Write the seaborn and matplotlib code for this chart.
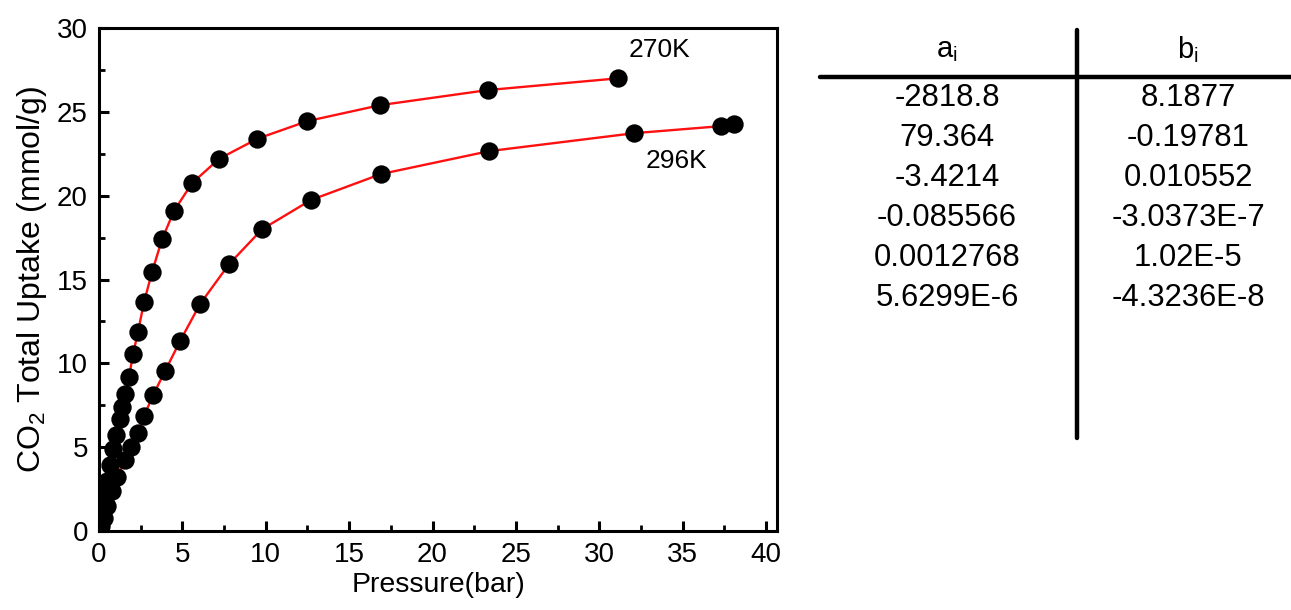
import matplotlib
matplotlib.use("Agg")
import matplotlib.pyplot as plt
import seaborn as sns
import pandas as pd

# Isotherm data (pressure in bar, uptake in mmol/g)
p_270 = [0.07, 0.15, 0.25, 0.38, 0.5, 0.66, 0.86, 1.02, 1.26, 1.36, 1.56, 1.8, 2.04,
         2.34, 2.7, 3.18, 3.78, 4.5, 5.58, 7.2, 9.5, 12.5, 16.85, 23.3, 31.1]
q_270 = [0.45, 1.0, 1.6, 2.3, 3.0, 3.94, 4.87, 5.74, 6.66, 7.38, 8.2, 9.2, 10.55,
         11.9, 13.65, 15.45, 17.4, 19.1, 20.75, 22.2, 23.4, 24.45, 25.4, 26.3, 27.0]
p_296 = [0.1, 0.3, 0.5, 0.8, 1.1, 1.56, 1.9, 2.36, 2.7, 3.24, 3.96, 4.86, 6.06, 7.8,
         9.78, 12.7, 16.9, 23.4, 32.1, 37.3, 38.1]
q_296 = [0.3, 0.8, 1.5, 2.4, 3.2, 4.23, 5.03, 5.83, 6.86, 8.1, 9.54, 11.33, 13.54, 15.92,
         18.0, 19.74, 21.29, 22.66, 23.73, 24.15, 24.27]

# Virial coefficients
a_coef = ["-2818.8", "79.364", "-3.4214", "-0.085566", "0.0012768", "5.6299E-6"]
b_coef = ["8.1877", "-0.19781", "0.010552", "-3.0373E-7", "1.02E-5", "-4.3236E-8"]

sns.set_style("ticks")
plt.rcParams["font.family"] = ["Liberation Sans", "DejaVu Sans"]
plt.rcParams["mathtext.default"] = "regular"
plt.rcParams["text.color"] = "black"
plt.rcParams["axes.labelcolor"] = "black"
plt.rcParams["xtick.color"] = "black"
plt.rcParams["ytick.color"] = "black"

df = pd.concat([
    pd.DataFrame({"P": p_270, "q": q_270, "T": "270K"}),
    pd.DataFrame({"P": p_296, "q": q_296, "T": "296K"}),
])

fig = plt.figure(figsize=(12.91, 6.10), dpi=100)
ax = fig.add_axes([0.0767, 0.1295, 0.5252, 0.8245])

sns.lineplot(data=df, x="P", y="q", units="T", estimator=None, sort=True,
             color="#ff1010", linewidth=1.7, ax=ax, legend=False, zorder=2)
sns.scatterplot(data=df, x="P", y="q", color="black", s=175, edgecolor="black",
                linewidth=0, ax=ax, legend=False, zorder=3)

ax.set_xlim(0, 40.66)
ax.set_ylim(0, 30)
ax.set_xticks(range(0, 41, 5))
ax.set_yticks(range(0, 31, 5))
ax.set_xticks([x + 2.5 for x in range(0, 40, 5)], minor=True)
ax.set_yticks([y + 2.5 for y in range(0, 30, 5)], minor=True)
ax.tick_params(which="major", direction="in", length=7, width=2.2,
               labelsize=20, pad=8, top=False, right=False, labelcolor="black")
ax.tick_params(which="minor", direction="in", length=4, width=2.0,
               top=False, right=False)
for sp in ax.spines.values():
    sp.set_visible(True)
    sp.set_linewidth(2.2)
    sp.set_color("black")

ax.set_xlabel("Pressure(bar)", fontsize=20.5, labelpad=3)
ax.set_ylabel(r"CO$_2$ Total Uptake (mmol/g)", fontsize=23, labelpad=6)

ax.text(33.6, 28.7, "270K", fontsize=19, ha="center", va="center")
ax.text(34.6, 22.1, "296K", fontsize=19, ha="center", va="center")

# Coefficient table drawn in figure coordinates
W, H = 1291, 610
def fx(px):
    return px / W
def fy(py):
    return 1 - py / H

fig.add_artist(plt.Line2D([fx(820), fx(1291)], [fy(77), fy(77)],
                          color="black", linewidth=3.2))
fig.add_artist(plt.Line2D([fx(1077), fx(1077)], [fy(30), fy(438)],
                          color="black", linewidth=3.2))
fig.text(fx(947), fy(50), r"a$_{i}$", fontsize=21, ha="center", va="center")
fig.text(fx(1188), fy(50), r"b$_{i}$", fontsize=21, ha="center", va="center")
for i, (a, b) in enumerate(zip(a_coef, b_coef)):
    yy = fy(98 + 40 * i)
    fig.text(fx(947), yy, a, fontsize=22.3, ha="center", va="center")
    fig.text(fx(1188), yy, b, fontsize=22.3, ha="center", va="center")

fig.savefig("out.png", dpi=100)
